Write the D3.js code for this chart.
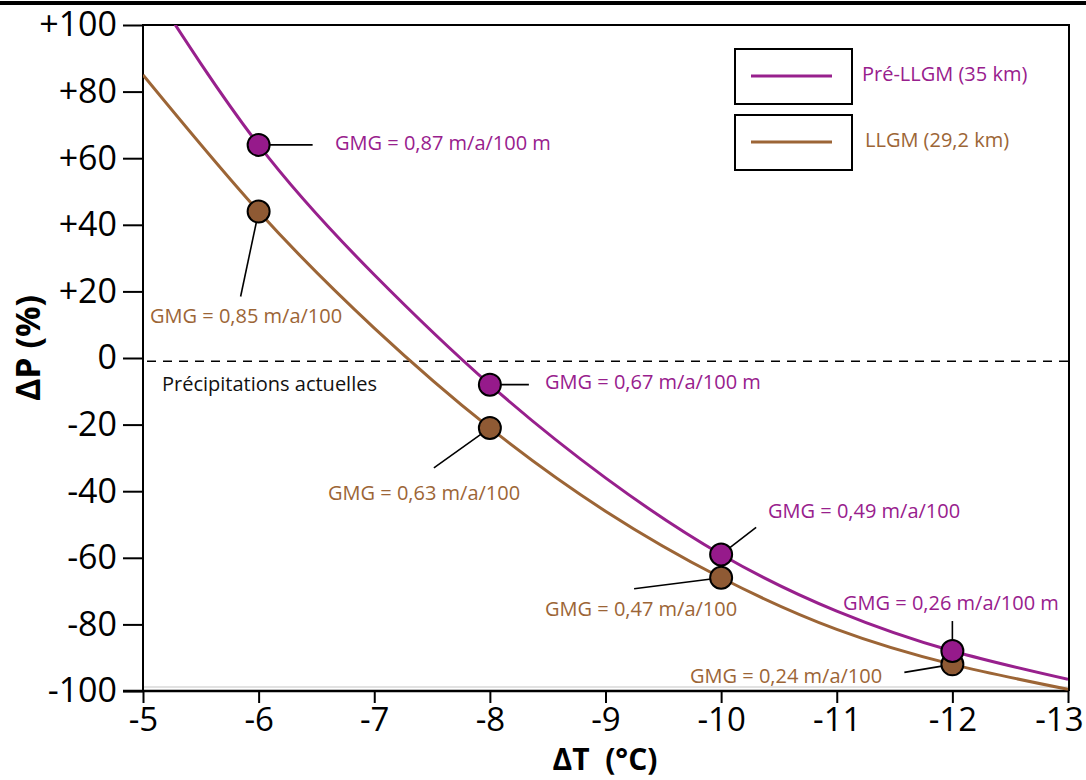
<!DOCTYPE html>
<html><head><meta charset="utf-8">
<script src="https://cdn.jsdelivr.net/npm/d3@7"></script>
<style>body{margin:0;background:#fff}svg{display:block}</style>
</head><body>
<svg id="c" width="1086" height="780"></svg>
<script>
// ---- data ----
const xTicks = [-5,-6,-7,-8,-9,-10,-11,-12,-13];
const yTicks = [100,80,60,40,20,0,-20,-40,-60,-80,-100];
const yTickLabels = ["+100","+80","+60","+40","+20","0","-20","-40","-60","-80","-100"];
const curveT = [-5,-6,-7,-8,-9,-10,-11,-12,-13];
const preLLGM = [115,64,25,-8,-36,-59,-76,-88,-96.5];
const llgm = [85,44,9,-21,-46,-66,-81.5,-92,-99.5];
const pointT = [-6,-8,-10,-12];
const prePoints = [64,-8,-59,-88];
const llgmPoints = [44,-21,-66,-92];
const preLabels = ["GMG = 0,87 m/a/100 m","GMG = 0,67 m/a/100 m","GMG = 0,49 m/a/100","GMG = 0,26 m/a/100 m"];
const llgmLabels = ["GMG = 0,85 m/a/100","GMG = 0,63 m/a/100","GMG = 0,47 m/a/100","GMG = 0,24 m/a/100"];
const seriesNames = ["Pré-LLGM (35 km)","LLGM (29,2 km)"];
const currentPrecip = -1;

const purple = "#98208d", brown = "#9c6536";
const purpleFill = "#961a8b", brownFill = "#8f5a34";
const font = "'Open Sans', sans-serif";

const svg = d3.select("#c");
const L=143, R=1068, T=25, B=691;
const x = d3.scaleLinear().domain([-5,-13]).range([L,R]);
const y = d3.scaleLinear().domain([-100,100]).range([B,T]);

// top black rule
svg.append("line").attr("x1",0).attr("x2",1086).attr("y1",3).attr("y2",3).attr("stroke","#000").attr("stroke-width",4);

svg.append("defs").append("clipPath").attr("id","clip").append("rect")
  .attr("x",L).attr("y",T).attr("width",R-L).attr("height",B-T);

// light gray line at -100
svg.append("line").attr("x1",L).attr("x2",R).attr("y1",B-4).attr("y2",B-4).attr("stroke","#d8d8d8").attr("stroke-width",1.5);

// frame
svg.append("path").attr("d",`M${L},${B}V${T}H${R+1}V${B}`).attr("fill","none").attr("stroke","#000").attr("stroke-width",2);

// dashed line
svg.append("line").attr("x1",L+4).attr("x2",R).attr("y1",y(currentPrecip)).attr("y2",y(currentPrecip))
  .attr("stroke","#000").attr("stroke-width",1.5).attr("stroke-dasharray","9,7");
svg.append("text").attr("x",162).attr("y",391).text("Précipitations actuelles")
  .attr("font-family",font).attr("font-size",20).attr("fill","#111");

// axes
const yAxis = d3.axisLeft(y).tickValues(yTicks).tickFormat((d,i)=>yTickLabels[i]).tickSize(20).tickPadding(6);
const gy = svg.append("g").attr("transform",`translate(${L},0)`).call(yAxis);
gy.select(".domain").remove();
gy.selectAll("line").attr("stroke","#000").attr("stroke-width",2);
gy.selectAll("text").attr("font-family",font).attr("font-size",34).attr("fill","#000");

const xAxis = d3.axisBottom(x).tickValues(xTicks).tickFormat(d=>String(d)).tickSize(12).tickPadding(5);
const gx = svg.append("g").attr("transform",`translate(0,${B})`).call(xAxis);
gx.select(".domain").attr("d",`M${L-20},0H${R+1}`).attr("stroke","#000").attr("stroke-width",2.5);
gx.selectAll("line").attr("stroke","#000").attr("stroke-width",2);
gx.selectAll("text").attr("font-family",font).attr("font-size",33).attr("fill","#000");
gx.selectAll(".tick").filter(d=>d===-13).select("text").attr("text-anchor","end").attr("x",15);

// axis titles
svg.append("text").attr("transform","translate(40,348) rotate(-90)").attr("text-anchor","middle")
  .attr("font-family",font).attr("font-weight","bold").attr("font-size",34).text("ΔP (%)");
svg.append("text").attr("x",605).attr("y",770).attr("text-anchor","middle")
  .attr("font-family",font).attr("font-weight","bold").attr("font-size",30).attr("xml:space","preserve").text("ΔT  (°C)");

// curves
const line = d3.line().x(d=>x(d[0])).y(d=>y(d[1])).curve(d3.curveNatural);
const cg = svg.append("g").attr("clip-path","url(#clip)");
cg.append("path").datum(curveT.map((t,i)=>[t,llgm[i]])).attr("d",line).attr("fill","none").attr("stroke",brown).attr("stroke-width",3);
cg.append("path").datum(curveT.map((t,i)=>[t,preLLGM[i]])).attr("d",line).attr("fill","none").attr("stroke",purple).attr("stroke-width",3);

// leaders (offsets relative to point)
const preLead = [[54,0],[39,0],[35,-27],[0,-30]];
const llgmLead = [[-18,85],[-56,40],[-87,11],[-48,8]];
const preLabelPos = [[335,150],[545,389],[768,518],[843,610]];
const llgmLabelPos = [[150,323],[328,500],[545,616],[690,683]];

function drawPts(vals, lead, fill){
  pointT.forEach((t,i)=>{
    const px=x(t), py=y(vals[i]);
    svg.append("line").attr("x1",px).attr("y1",py).attr("x2",px+lead[i][0]).attr("y2",py+lead[i][1])
      .attr("stroke","#000").attr("stroke-width",1.6);
  });
  pointT.forEach((t,i)=>{
    svg.append("circle").attr("cx",x(t)).attr("cy",y(vals[i])).attr("r",11)
      .attr("fill",fill).attr("stroke","#000").attr("stroke-width",2);
  });
}
drawPts(llgmPoints, llgmLead, brownFill);
drawPts(prePoints, preLead, purpleFill);

preLabels.forEach((s,i)=>svg.append("text").attr("x",preLabelPos[i][0]).attr("y",preLabelPos[i][1]).text(s)
  .attr("font-family",font).attr("font-size",20).attr("fill",purple));
llgmLabels.forEach((s,i)=>svg.append("text").attr("x",llgmLabelPos[i][0]).attr("y",llgmLabelPos[i][1]).text(s)
  .attr("font-family",font).attr("font-size",20).attr("fill",brown));

// legend
const leg = [[49,purple],[115,brown]];
leg.forEach((l,i)=>{
  svg.append("rect").attr("x",735).attr("y",l[0]).attr("width",117).attr("height",55)
    .attr("fill","#fff").attr("stroke","#000").attr("stroke-width",2);
  svg.append("line").attr("x1",751).attr("x2",832).attr("y1",l[0]+27).attr("y2",l[0]+27)
    .attr("stroke",l[1]).attr("stroke-width",3);
  svg.append("text").attr("x",i===0?862:865).attr("y",l[0]+32).text(seriesNames[i])
    .attr("font-family",font).attr("font-size",20).attr("fill",l[1]);
});
</script>
</body></html>
